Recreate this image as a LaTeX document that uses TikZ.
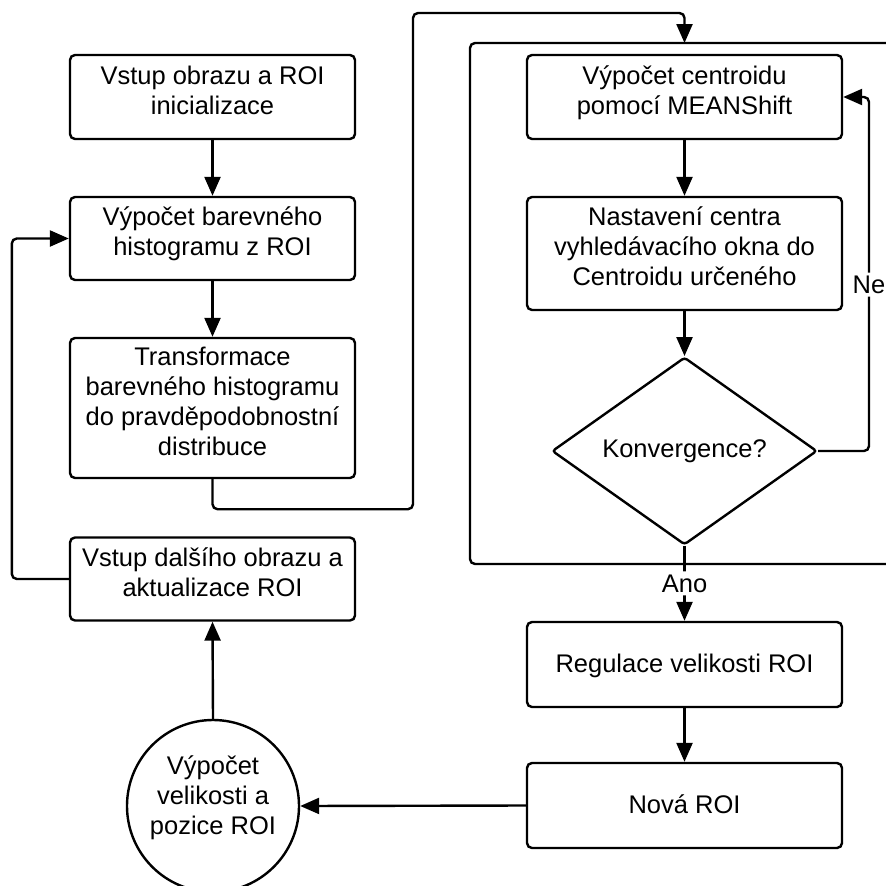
\documentclass[tikz,border=0pt]{standalone}
\usepackage{fontspec}
\setmainfont{Liberation Sans}
\usetikzlibrary{arrows.meta,shapes.geometric}

\begin{document}
\begin{tikzpicture}[x=1pt,y=-1pt,
  every node/.style={font=\fontsize{25.5}{30}\selectfont},
  blok/.style={draw,line width=2.4pt,rounded corners=5pt,align=center,inner sep=0pt,text depth=14pt},
  kolo/.style={draw,line width=2.4pt,circle,align=center,inner sep=0pt,minimum size=172pt,text depth=22pt},
  otazka/.style={draw,line width=2.4pt,diamond,rounded corners=3pt,inner sep=0pt,minimum width=265pt,minimum height=164pt},
  sipka/.style={line width=2.4pt,rounded corners=5pt,-{Triangle[length=19pt,width=16pt]}},
  popis/.style={fill=white,inner sep=3pt}]
\pgfmathsetmacro{\levax}{212.5}
\pgfmathsetmacro{\pravax}{684.5}
\pgfmathsetmacro{\levaw}{285}
\pgfmathsetmacro{\pravaw}{315}
\clip (0,0) rectangle (886,886);
\fill[white] (0,0) rectangle (886,886);
% leva strana
\node[blok,minimum width=\levaw pt,minimum height=84pt] (vstup) at (\levax,97) {Vstup obrazu a ROI\\inicializace};
\node[blok,minimum width=\levaw pt,minimum height=83pt] (histo) at (\levax,238.5) {Výpočet barevného\\histogramu z ROI};
\node[blok,minimum width=\levaw pt,minimum height=140pt] (transf) at (\levax,408) {Transformace\\barevného histogramu\\do pravděpodobnostní\\distribuce};
\node[blok,minimum width=\levaw pt,minimum height=83pt] (dalsi) at (\levax,579) {Vstup dalšího obrazu a\\aktualizace ROI};
\node[kolo] (velikost) at (213,806) {Výpočet\\velikosti a\\pozice ROI};
% prava strana
\draw[line width=2.4pt,rounded corners=5pt] (470,43) rectangle (910,564);
\coordinate (ramec) at (\pravax,43);
\node[blok,minimum width=\pravaw pt,minimum height=84pt] (centroid) at (\pravax,97) {Výpočet centroidu\\pomocí MEANShift};
\node[blok,minimum width=\pravaw pt,minimum height=113pt] (nastav) at (\pravax,253.5) {Nastavení centra\\vyhledávacího okna do\\Centroidu určeného};
\node[otazka] (konv) at (\pravax,451) {Konvergence?};
\node[blok,minimum width=\pravaw pt,minimum height=85pt,text depth=2pt] (regul) at (\pravax,664.5) {Regulace velikosti ROI};
\node[blok,minimum width=\pravaw pt,minimum height=85pt,text depth=2pt] (nova) at (\pravax,805.5) {Nová ROI};
% spojnice
\draw[sipka] (vstup) -- (histo);
\draw[sipka] (histo) -- (transf);
\draw[sipka] (transf.south) -- ++(0,30) -| (413,13) -| (ramec);
\draw[sipka] (centroid) -- (nastav);
\draw[sipka] (nastav) -- (konv);
\draw[sipka] (konv.east) -- (869,451) -- node[popis,pos=0.47]{Ne} (869,97) -- (centroid.east);
\draw[sipka] (konv.south) -- node[popis,pos=0.5]{Ano} (regul.north);
\draw[sipka] (regul) -- (nova);
\draw[sipka] (nova.west) -- (velikost.east);
\draw[sipka] (velikost.north) -- (dalsi.south);
\draw[sipka] (dalsi.west) -- ++(-57,0) |- (histo.west);
\end{tikzpicture}
\end{document}
